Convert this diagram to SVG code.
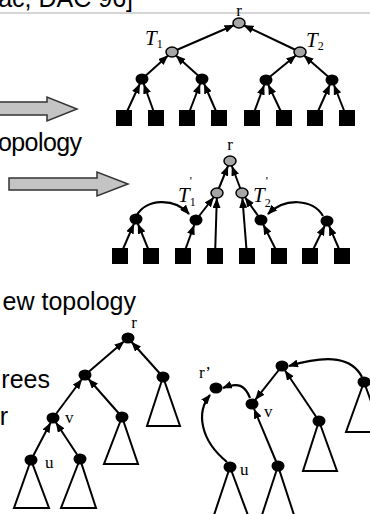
<svg xmlns="http://www.w3.org/2000/svg" width="370" height="514" viewBox="0 0 370 514">
<style>
.t{font-family:"Liberation Sans",Arial,sans-serif;font-size:25px;fill:#000}
.s{font-family:"Liberation Serif","Times New Roman",serif;fill:#000}
.it{font-style:italic;font-size:21px}
.sub{font-size:12px}
.lb{font-size:17px}
.ea{stroke:#000;stroke-width:2;fill:none;marker-end:url(#ah)}
.ec{stroke:#000;stroke-width:2.2;fill:none;marker-end:url(#ah0)}
.bk{fill:#000}
.gy{fill:#a6a6a6;stroke:#000;stroke-width:1.5}
.tri{fill:#fff;stroke:#000;stroke-width:2}
.big{fill:#c4c4c4;stroke:#333;stroke-width:1.5}
</style>
<defs>
<marker id="ah" markerWidth="10" markerHeight="8" refX="15" refY="4" orient="auto" markerUnits="userSpaceOnUse"><path d="M0,0 L10,4 L0,8 z" fill="#000"/></marker>
<marker id="ah0" markerWidth="10" markerHeight="8" refX="9" refY="4" orient="auto" markerUnits="userSpaceOnUse"><path d="M0,0 L10,4 L0,8 z" fill="#000"/></marker>
</defs>
<rect width="370" height="514" fill="#fff"/>
<text class="t" x="133" y="7" text-anchor="end">ac, DAC 96]</text>
<line x1="0" y1="13" x2="370" y2="13" stroke="#c8c8c8" stroke-width="1.5"/>
<text class="t" x="82" y="151" text-anchor="end" textLength="84">opology</text>
<text class="t" x="136" y="310" text-anchor="end">ew topology</text>
<text class="t" x="50" y="388" text-anchor="end">rees</text>
<text class="t" x="8" y="425" text-anchor="end">r</text>
<!-- block arrows -->
<polygon class="big" points="-2,102 47,102 47,97 77,109 47,121 47,115 -2,115"/>
<polygon class="big" points="9,178 97,178 97,172 128,184 97,196 97,190 9,190"/>
<g id="connectors">
<!-- tree 1 -->
<line class="ea" x1="124" y1="118" x2="142" y2="79"/>
<line class="ea" x1="156" y1="118" x2="142" y2="79"/>
<line class="ea" x1="187" y1="118" x2="202" y2="79"/>
<line class="ea" x1="219" y1="118" x2="202" y2="79"/>
<line class="ea" x1="252" y1="118" x2="266" y2="80"/>
<line class="ea" x1="284" y1="118" x2="266" y2="80"/>
<line class="ea" x1="315" y1="118" x2="332" y2="80"/>
<line class="ea" x1="347" y1="118" x2="332" y2="80"/>
<line class="ea" x1="142" y1="79" x2="172" y2="52"/>
<line class="ea" x1="202" y1="79" x2="172" y2="52"/>
<line class="ea" x1="266" y1="80" x2="300" y2="52"/>
<line class="ea" x1="332" y1="80" x2="300" y2="52"/>
<line class="ea" x1="172" y1="52" x2="239" y2="23"/>
<line class="ea" x1="300" y1="52" x2="239" y2="23"/>
<!-- tree 2 -->
<line class="ea" x1="120" y1="256" x2="136" y2="219"/>
<line class="ea" x1="151" y1="256" x2="136" y2="219"/>
<line class="ea" x1="183" y1="256" x2="196" y2="220"/>
<line class="ea" x1="215" y1="256" x2="217" y2="193"/>
<line class="ea" x1="247" y1="256" x2="242" y2="193"/>
<line class="ea" x1="279" y1="256" x2="261" y2="220"/>
<line class="ea" x1="310" y1="256" x2="327" y2="221"/>
<line class="ea" x1="342" y1="256" x2="327" y2="221"/>
<line class="ea" x1="196" y1="220" x2="217" y2="193"/>
<line class="ea" x1="261" y1="220" x2="242" y2="193"/>
<line class="ea" x1="217" y1="193" x2="230" y2="161"/>
<line class="ea" x1="242" y1="193" x2="230" y2="161"/>
<path class="ec" d="M137,215 C146,199 174,197 189,214"/>
<path class="ec" d="M323,216 C313,199 285,197 268,214"/>
<!-- tree 3 -->
<line class="ea" x1="85" y1="375" x2="128" y2="338"/>
<line class="ea" x1="163" y1="377" x2="128" y2="338"/>
<line class="ea" x1="53" y1="418" x2="85" y2="375"/>
<line class="ea" x1="122" y1="417" x2="85" y2="375"/>
<line class="ea" x1="31" y1="460" x2="53" y2="418"/>
<line class="ea" x1="80" y1="459" x2="53" y2="418"/>
<!-- tree 4 -->
<line class="ea" x1="282" y1="366" x2="252" y2="404"/>
<line class="ea" x1="319" y1="421" x2="282" y2="366"/>
<line class="ea" x1="278" y1="466" x2="252" y2="404"/>
<path class="ec" d="M362,377 C352,358 330,354 289,366"/>
<path class="ec" d="M250,398 C245,385 238,382 223,388"/>
<path class="ec" d="M227,462 C200,440 196,412 210,395"/>
</g>
<g id="tree1">
<g id="t1-leaves" class="bk">
<rect x="116" y="110" width="16" height="16"/><rect x="148" y="110" width="16" height="16"/>
<rect x="179" y="110" width="16" height="16"/><rect x="211" y="110" width="16" height="16"/>
<rect x="244" y="110" width="16" height="16"/><rect x="276" y="110" width="16" height="16"/>
<rect x="307" y="110" width="16" height="16"/><rect x="339" y="110" width="16" height="16"/>
</g>
<g id="t1-a"><ellipse class="bk" cx="142" cy="79" rx="6.5" ry="5.5"/></g>
<g id="t1-b"><ellipse class="bk" cx="202" cy="79" rx="6.5" ry="5.5"/></g>
<g id="t1-c"><ellipse class="bk" cx="266" cy="80" rx="6.5" ry="5.5"/></g>
<g id="t1-d"><ellipse class="bk" cx="332" cy="80" rx="6.5" ry="5.5"/></g>
<g id="t1-T1"><ellipse class="gy" cx="172" cy="52" rx="6" ry="5"/>
<text class="s" x="145" y="45"><tspan class="it">T</tspan><tspan class="sub" dy="3">1</tspan></text></g>
<g id="t1-T2"><ellipse class="gy" cx="300" cy="52" rx="6" ry="5"/>
<text class="s" x="306" y="47"><tspan class="it">T</tspan><tspan class="sub" dy="3">2</tspan></text></g>
<g id="t1-r"><ellipse class="gy" cx="239" cy="23" rx="6" ry="5"/>
<text class="s lb" x="239" y="16" text-anchor="middle">r</text></g>
</g>
<g id="tree2">
<g id="t2-leaves" class="bk">
<rect x="112" y="248" width="16" height="16"/><rect x="143" y="248" width="16" height="16"/>
<rect x="175" y="248" width="16" height="16"/><rect x="207" y="248" width="16" height="16"/>
<rect x="239" y="248" width="16" height="16"/><rect x="271" y="248" width="16" height="16"/>
<rect x="302" y="248" width="16" height="16"/><rect x="334" y="248" width="16" height="16"/>
</g>
<g id="t2-a"><ellipse class="bk" cx="136" cy="219" rx="6.5" ry="5.5"/></g>
<g id="t2-b"><ellipse class="bk" cx="196" cy="220" rx="6.5" ry="5.5"/></g>
<g id="t2-c"><ellipse class="bk" cx="261" cy="220" rx="6.5" ry="5.5"/></g>
<g id="t2-d"><ellipse class="bk" cx="327" cy="221" rx="6.5" ry="5.5"/></g>
<g id="t2-T1"><ellipse class="gy" cx="217" cy="193" rx="6" ry="5"/>
<text class="s" x="178" y="202"><tspan class="it">T</tspan><tspan class="sub" dy="4">1</tspan><tspan class="sub" dx="-6" dy="-21">'</tspan></text></g>
<g id="t2-T2"><ellipse class="gy" cx="242" cy="193" rx="6" ry="5"/>
<text class="s" x="253" y="202"><tspan class="it">T</tspan><tspan class="sub" dy="5">2</tspan><tspan class="sub" dx="-5" dy="-22">'</tspan></text></g>
<g id="t2-r"><ellipse class="gy" cx="230" cy="161" rx="6" ry="5"/>
<text class="s lb" x="230" y="150" text-anchor="middle">r</text></g>
</g>
<g id="tree3">
<g id="t3-r"><ellipse class="bk" cx="128" cy="338" rx="6.5" ry="5.5"/>
<text class="s lb" x="134" y="328" text-anchor="middle">r</text></g>
<g id="t3-a"><ellipse class="bk" cx="85" cy="375" rx="6.5" ry="5.5"/></g>
<g id="t3-b"><polygon class="tri" points="163,377 147,426 180,426"/><ellipse class="bk" cx="163" cy="377" rx="6.5" ry="5.5"/></g>
<g id="t3-v"><ellipse class="bk" cx="53" cy="418" rx="6.5" ry="5.5"/>
<text class="s lb" x="65" y="423">v</text></g>
<g id="t3-c"><polygon class="tri" points="122,417 104,464 138,464"/><ellipse class="bk" cx="122" cy="417" rx="6.5" ry="5.5"/></g>
<g id="t3-u"><polygon class="tri" points="31,460 14,508 49,508"/><ellipse class="bk" cx="31" cy="460" rx="6.5" ry="5.5"/>
<text class="s lb" x="45" y="468">u</text></g>
<g id="t3-d"><polygon class="tri" points="80,459 61,508 96,508"/><ellipse class="bk" cx="80" cy="459" rx="6.5" ry="5.5"/></g>
</g>
<g id="tree4">
<g id="t4-top"><ellipse class="bk" cx="282" cy="366" rx="6.5" ry="5.5"/></g>
<g id="t4-r"><ellipse class="bk" cx="216" cy="388" rx="6.5" ry="5.5"/>
<text class="s lb" x="199" y="378">r’</text></g>
<g id="t4-v"><ellipse class="bk" cx="252" cy="404" rx="6.5" ry="5.5"/>
<text class="s lb" x="264" y="417">v</text></g>
<g id="t4-a"><polygon class="tri" points="319,421 303,471 337,471"/><ellipse class="bk" cx="319" cy="421" rx="6.5" ry="5.5"/></g>
<g id="t4-b"><polygon class="tri" points="364,382 346,432 382,432"/><ellipse class="bk" cx="364" cy="382" rx="6.5" ry="5.5"/></g>
<g id="t4-u"><polygon class="tri" points="230,467 213,518 249,518"/><ellipse class="bk" cx="230" cy="467" rx="6.5" ry="5.5"/>
<text class="s lb" x="240" y="475">u</text></g>
<g id="t4-c"><polygon class="tri" points="278,466 261,518 295,518"/><ellipse class="bk" cx="278" cy="466" rx="6.5" ry="5.5"/></g>
</g>
</svg>
